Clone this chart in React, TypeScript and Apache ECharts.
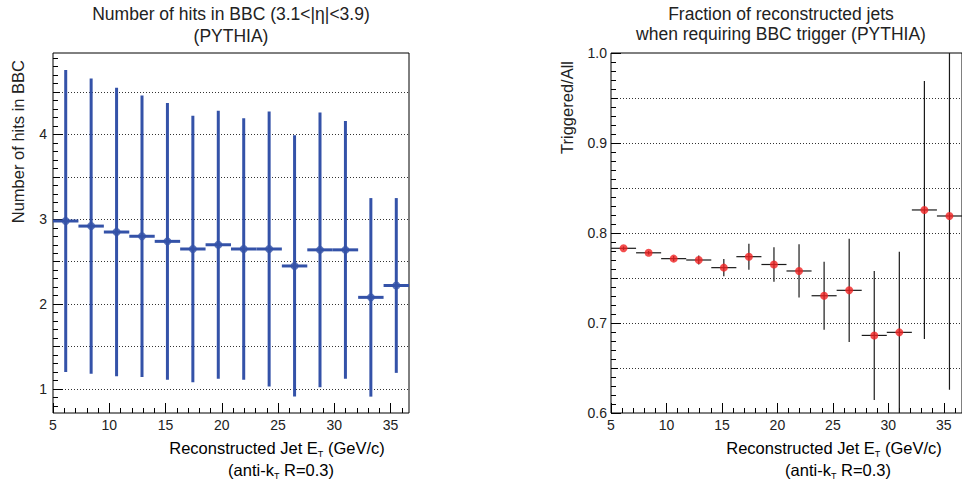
import React, { useEffect, useRef } from "react";
import * as echarts from "echarts";

// ---- data ----
const binCenters = [6.13, 8.39, 10.65, 12.91, 15.17, 17.43, 19.69, 21.95, 24.21, 26.47, 28.73, 30.99, 33.25, 35.51];
const binHalfWidth = 1.13;
const hitsMean = [2.98, 2.92, 2.85, 2.8, 2.74, 2.65, 2.7, 2.65, 2.65, 2.45, 2.64, 2.64, 2.08, 2.22];
const hitsErr = [1.78, 1.74, 1.7, 1.66, 1.63, 1.57, 1.58, 1.54, 1.62, 1.54, 1.62, 1.52, 1.17, 1.03];
const fraction = [0.783, 0.778, 0.7715, 0.77, 0.7615, 0.7737, 0.765, 0.7578, 0.7303, 0.7363, 0.6862, 0.6896, 0.8256, 0.8189];
const fractionErr = [0.002, 0.002, 0.003, 0.005, 0.0096, 0.0144, 0.0193, 0.0296, 0.0378, 0.0574, 0.0717, 0.0896, 0.1434, 0.193];

const xTickLabels = [5, 10, 15, 20, 25, 30, 35];
const hitsTickLabels = [1, 2, 3, 4];
const fracTickLabels = [0.6, 0.7, 0.8, 0.9, 1.0];

const X_MIN = 5;
const X_MAX = 36.64;
const HITS_MIN = 0.717;
const HITS_MAX = 4.96;
const FRAC_MIN = 0.6;
const FRAC_MAX = 1.0;

const FONT = "Liberation Sans, Arial, sans-serif";
const TEXT = "#222";
const BLUE = "#3452a8";
const RED = "#f02222";

function range(a: number, b: number, step: number, skip?: (v: number) => boolean) {
  const out: number[] = [];
  const n = Math.round((b - a) / step);
  for (let i = 0; i <= n; i++) {
    const v = +(a + i * step).toFixed(4);
    if (!skip || !skip(v)) out.push(v);
  }
  return out;
}

const xMinor = range(6, 36, 1, (v) => v % 5 === 0);
const hitsHalf = range(1, 4.5, 0.5);
const hitsMinor = range(0.8, 4.9, 0.1);
const fracHalf = range(0.65, 0.95, 0.05);
const fracMinor = range(0.61, 0.99, 0.01);

function xAxes(gridIndex: number) {
  const base = {
    type: "value",
    gridIndex,
    min: X_MIN,
    max: X_MAX,
    position: "bottom",
    offset: 0,
    axisLine: { show: false },
    splitLine: { show: false },
  };
  return [
    {
      ...base,
      axisTick: { show: true, inside: true, length: 10, customValues: xTickLabels, lineStyle: { color: "#000" } },
      axisLabel: {
        show: true,
        customValues: xTickLabels,
        margin: 5,
        fontSize: 14,
        color: TEXT,
        fontFamily: FONT,
        formatter: (v: number) => String(v),
      },
    },
    {
      ...base,
      axisTick: { show: true, inside: true, length: 5, customValues: xMinor, lineStyle: { color: "#000" } },
      axisLabel: { show: false },
    },
  ];
}

function yAxes(
  gridIndex: number,
  min: number,
  max: number,
  labels: number[],
  half: number[],
  minor: number[],
  fmt: (v: number) => string,
  margin: number
) {
  const base = {
    type: "value",
    gridIndex,
    min,
    max,
    position: "left",
    offset: 0,
    axisLine: { show: false },
    splitLine: { show: false },
  };
  return [
    {
      ...base,
      axisTick: { show: true, inside: true, length: 10, customValues: labels, lineStyle: { color: "#000" } },
      axisLabel: {
        show: true,
        customValues: labels,
        margin,
        fontSize: 14,
        color: TEXT,
        fontFamily: FONT,
        formatter: fmt,
      },
    },
    {
      ...base,
      axisTick: { show: true, inside: true, length: 7, customValues: half, lineStyle: { color: "#000" } },
      axisLabel: { show: false },
      splitLine: { show: true, lineStyle: { color: "#333", width: 1, type: [1, 2] } },
    },
    {
      ...base,
      axisTick: { show: true, inside: true, length: 5, customValues: minor, lineStyle: { color: "#000" } },
      axisLabel: { show: false },
    },
  ];
}

function errorSeries(
  xAxisIndex: number,
  yAxisIndex: number,
  ys: number[],
  errs: number[],
  yMin: number,
  yMax: number,
  color: string,
  width: number
) {
  return {
    type: "custom",
    xAxisIndex,
    yAxisIndex,
    clip: true,
    silent: true,
    data: binCenters.map((x, i) => [x, ys[i], errs[i]]),
    renderItem: (_params: any, api: any) => {
      const x = api.value(0);
      const y = api.value(1);
      const e = api.value(2);
      const top = Math.min(y + e, yMax);
      const bot = Math.max(y - e, yMin);
      const pTop = api.coord([x, top]);
      const pBot = api.coord([x, bot]);
      const pL = api.coord([Math.max(x - binHalfWidth, X_MIN), y]);
      const pR = api.coord([Math.min(x + binHalfWidth, X_MAX), y]);
      return {
        type: "group",
        children: [
          {
            type: "line",
            shape: { x1: pTop[0], y1: pTop[1], x2: pBot[0], y2: pBot[1] },
            style: { stroke: color, lineWidth: width },
          },
          {
            type: "line",
            shape: { x1: pL[0], y1: pL[1], x2: pR[0], y2: pR[1] },
            style: { stroke: color, lineWidth: width },
          },
        ],
      };
    },
  };
}

const xTitleRich = {
  a: { fontSize: 16.5, fontFamily: FONT, color: TEXT, lineHeight: 20 },
  s: { fontSize: 9, fontFamily: FONT, color: TEXT, verticalAlign: "bottom", lineHeight: 11 },
};

function xTitle(cx: number) {
  return [
    {
      type: "text",
      x: cx,
      y: 448,
      style: {
        text: "{a|Reconstructed Jet E}{s|T}{a| (GeV/c)}",
        rich: xTitleRich,
        align: "center",
        verticalAlign: "middle",
      },
    },
    {
      type: "text",
      x: cx + 4,
      y: 470,
      style: {
        text: "{a|(anti-k}{s|T}{a| R=0.3)}",
        rich: xTitleRich,
        align: "center",
        verticalAlign: "middle",
      },
    },
  ];
}

const TITLE_FONT = `17.5px ${FONT}`;

export default function App() {
  const ref = useRef<HTMLDivElement>(null);
  useEffect(() => {
    document.body.style.margin = "0";
    if (!ref.current) return;
    const chart = echarts.init(ref.current, undefined, { renderer: "svg" });
    const option: any = {
      animation: false,
      backgroundColor: "#fff",
      grid: [
        { left: 53, top: 53, width: 356, height: 360, show: true, borderColor: "#000", borderWidth: 1, backgroundColor: "transparent" },
        { left: 611, top: 53, width: 354, height: 360, show: true, borderColor: "#000", borderWidth: 1, backgroundColor: "transparent" },
      ],
      xAxis: [...xAxes(0), ...xAxes(1)],
      yAxis: [
        ...yAxes(0, HITS_MIN, HITS_MAX, hitsTickLabels, hitsHalf, hitsMinor, (v: number) => String(v), 6),
        ...yAxes(1, FRAC_MIN, FRAC_MAX, fracTickLabels, fracHalf, fracMinor, (v: number) => v.toFixed(1), 4),
      ],
      series: [
        errorSeries(0, 0, hitsMean, hitsErr, HITS_MIN, HITS_MAX, BLUE, 3),
        {
          type: "scatter",
          xAxisIndex: 0,
          yAxisIndex: 0,
          symbol: "circle",
          symbolSize: 8,
          itemStyle: { color: BLUE },
          data: binCenters.map((x, i) => [x, hitsMean[i]]),
          z: 3,
        },
        errorSeries(2, 3, fraction, fractionErr, FRAC_MIN, FRAC_MAX, "#1a1a1a", 1.2),
        {
          type: "scatter",
          xAxisIndex: 2,
          yAxisIndex: 3,
          symbol: "circle",
          symbolSize: 8,
          itemStyle: { color: RED },
          data: binCenters.map((x, i) => [x, fraction[i]]),
          z: 3,
        },
      ],
      graphic: [
        {
          type: "text",
          x: 231,
          y: 14,
          style: { text: "Number of hits in BBC (3.1<|η|<3.9)", font: TITLE_FONT, fill: TEXT, align: "center", verticalAlign: "middle" },
        },
        {
          type: "text",
          x: 231,
          y: 36,
          style: { text: "(PYTHIA)", font: TITLE_FONT, fill: TEXT, align: "center", verticalAlign: "middle" },
        },
        {
          type: "text",
          x: 781,
          y: 14,
          style: { text: "Fraction of reconstructed jets", font: TITLE_FONT, fill: TEXT, align: "center", verticalAlign: "middle" },
        },
        {
          type: "text",
          x: 781,
          y: 34,
          style: { text: "when requiring BBC trigger (PYTHIA)", font: TITLE_FONT, fill: TEXT, align: "center", verticalAlign: "middle" },
        },
        {
          type: "text",
          x: 18,
          y: 60,
          rotation: Math.PI / 2,
          style: { text: "Number of hits in BBC", font: `16.5px ${FONT}`, fill: TEXT, align: "right", verticalAlign: "middle" },
        },
        {
          type: "text",
          x: 567,
          y: 61,
          rotation: Math.PI / 2,
          style: { text: "Triggered/All", font: `16.5px ${FONT}`, fill: TEXT, align: "right", verticalAlign: "middle" },
        },
        ...xTitle(277),
        ...xTitle(834),
      ],
    };
    chart.setOption(option);
    return () => chart.dispose();
  }, []);
  return <div ref={ref} style={{ position: "fixed", left: 0, top: 0, width: 962, height: 482 }} />;
}
